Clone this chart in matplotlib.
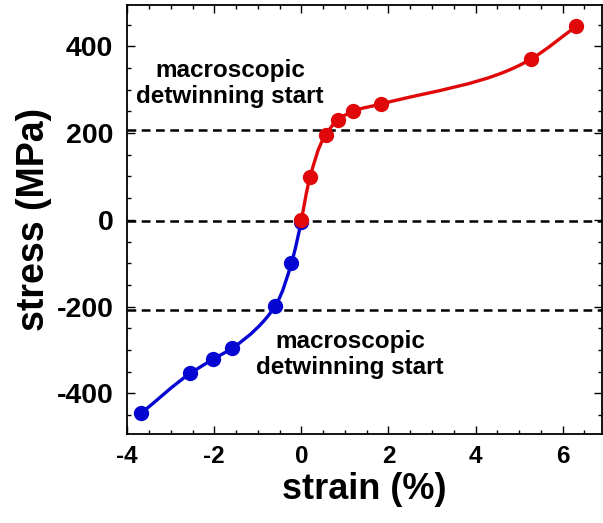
import numpy as np
import matplotlib
matplotlib.use("Agg")
import matplotlib.pyplot as plt
from matplotlib.path import Path
from matplotlib.patches import PathPatch
from matplotlib.ticker import MultipleLocator

# tension branch (red) and compression branch (blue), strain in %, stress in MPa
tension_strain = [0.0, 0.2, 0.56, 0.84, 1.18, 1.83, 5.28, 6.31]
tension_stress = [0, 98, 196, 231, 250, 267, 371, 446]
compression_strain = [0.0, -0.23, -0.6, -1.59, -2.02, -2.55, -3.68]
compression_stress = [-4, -100, -198, -296, -321, -354, -446]

# dashed reference levels
reference_stress = [208, -2, -208]

annotation = "macroscopic\ndetwinning start"
red = "#e00808"
blue = "#0606d2"

plt.rcParams["font.family"] = ["Liberation Sans", "DejaVu Sans"]
plt.rcParams["font.weight"] = "bold"
plt.rcParams["axes.unicode_minus"] = False

XLIM = (-4, 6.9)
YLIM = (-494, 496)


def smooth_path(xs, ys):
    # chord-length curve through the measured points (parabolic tangents), as Bezier segments
    pts = np.column_stack([xs, ys]).astype(float)
    scale = np.array([XLIM[1] - XLIM[0], YLIM[1] - YLIM[0]])
    h = np.hypot(*(np.diff(pts, axis=0) / scale).T)
    d = np.diff(pts, axis=0) / h[:, None]
    tang = np.empty_like(pts)
    tang[1:-1] = (h[1:, None] * d[:-1] + h[:-1, None] * d[1:]) / (h[:-1] + h[1:])[:, None]
    tang[0] = d[0]
    tang[-1] = d[-1]
    verts = [pts[0]]
    codes = [Path.MOVETO]
    for i in range(len(pts) - 1):
        verts += [pts[i] + tang[i] * h[i] / 3, pts[i + 1] - tang[i + 1] * h[i] / 3, pts[i + 1]]
        codes += [Path.CURVE4] * 3
    return Path(verts, codes)


fig = plt.figure(figsize=(6.03, 5.23), dpi=100)
ax = fig.add_axes([0.211, 0.170, 0.787, 0.821])

for level in reference_stress:
    ax.axhline(level, color="black", lw=1.8, dashes=(3.5, 2.2), zorder=1)

for xs, ys, color in [(compression_strain, compression_stress, blue),
                      (tension_strain, tension_stress, red)]:
    ax.add_patch(PathPatch(smooth_path(xs, ys), facecolor="none", edgecolor=color,
                           lw=2.4, zorder=2))
    ax.plot(xs, ys, "o", color=color, ms=10, ls="none", zorder=3)

ax.text(-1.64, 314, annotation, ha="center", va="center", fontsize=17.5,
        fontweight="bold", linespacing=1.15)
ax.text(1.12, -311, annotation, ha="center", va="center", fontsize=17.5,
        fontweight="bold", linespacing=1.15)

ax.set_xlim(*XLIM)
ax.set_ylim(*YLIM)
ax.xaxis.set_major_locator(MultipleLocator(2))
ax.xaxis.set_minor_locator(MultipleLocator(0.5))
ax.yaxis.set_major_locator(MultipleLocator(200))
ax.yaxis.set_minor_locator(MultipleLocator(50))
ax.tick_params(which="both", direction="in", top=True, right=True, width=1.0)
ax.tick_params(which="major", length=6)
ax.tick_params(which="minor", length=3)
ax.tick_params(axis="x", which="major", labelsize=17.5, pad=8)
ax.tick_params(axis="y", which="major", labelsize=20.5, pad=10)
for lab in ax.get_xticklabels() + ax.get_yticklabels():
    lab.set_fontweight("bold")
for sp in ax.spines.values():
    sp.set_linewidth(1.3)

ax.set_xlabel("strain (%)", fontsize=26, fontweight="bold", labelpad=3)
ax.set_ylabel("stress (MPa)", fontsize=27, fontweight="bold", labelpad=3)

fig.savefig("out.png", dpi=100)
